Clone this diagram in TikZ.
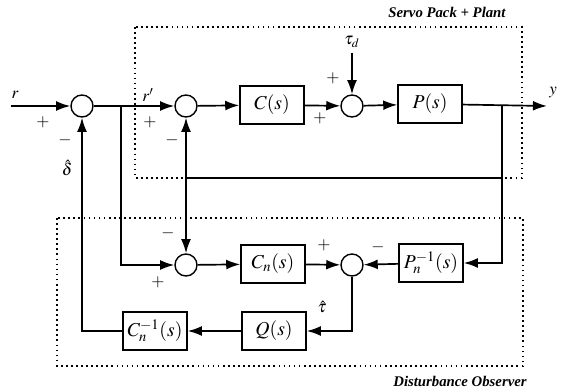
\documentclass[tikz,border=0pt]{standalone}
\usepackage{mathptmx}
\usepackage{fontspec}
\setmainfont{Liberation Serif}
\usetikzlibrary{arrows.meta,positioning}

\begin{document}
\begin{tikzpicture}[x=0.025cm,y=-0.025cm,line width=1.2pt,
  sumnode/.style={draw,circle,line width=1pt,minimum size=0.55cm,inner sep=0pt},
  blockbox/.style={draw,line width=1pt,minimum width=1.6cm,minimum height=0.95cm,inner sep=1pt,font=\fontsize{14}{16}\selectfont},
  sig/.style={-{Latex[length=10pt,width=7pt]}},
  lbl/.style={inner sep=0pt,font=\fontsize{12}{14}\selectfont},
  frame/.style={line width=1.3pt,dash pattern=on 1.2pt off 2.4pt},
  caption/.style={inner sep=0pt,font=\fontsize{10.5}{12}\selectfont\bfseries\itshape}]
\useasboundingbox (0,0) rectangle (562,390);

%Frames
\draw [frame] (135,27) rectangle (522,178);
\draw [frame] (57,218) rectangle (523,366);
\node [caption] (servo) at (447,12) {Servo Pack + Plant};
\node [caption] (dob) at (460,381) {Disturbance Observer};

%Top row
\coordinate (rin) at (11,106);
\node [sumnode] (s1) at (82,106) {};
\node [sumnode] (s2) at (186,106) {};
\node [blockbox] (cbox) at (272,105) {$C(s)$};
\node [sumnode] (s3) at (352,106) {};
\node [blockbox] (pbox) at (430,104) {$P(s)$};
\coordinate (yout) at (547,106);
\coordinate (b1) at (121,106);
\coordinate (b2) at (502,106);
\node [lbl] (taud) at (352,42) {$\tau_d$};

\draw [sig] (rin) -- (s1);
\draw [sig] (s1) -- (s2);
\draw [sig] (s2) -- (cbox);
\draw [sig] (cbox) -- (s3);
\draw [sig] (s3) -- (pbox);
\draw [sig] (pbox) -- (yout);
\draw [sig] ([yshift=-3pt]taud.south) -- (s3);

%Feedback
\coordinate (fbr) at (502,178);
\coordinate (fbj) at (186,178);
\draw (fbr) -- (fbj);

%Observer
\node [sumnode] (s4) at (186,265) {};
\node [blockbox] (cnbox) at (273,264) {$C_n(s)$};
\node [sumnode] (s5) at (352,265) {};
\node [blockbox] (pninv) at (431,263) {$P_n^{-1}(s)$};
\node [blockbox] (qbox) at (274,331) {$Q(s)$};
\node [blockbox] (cninv) at (155,331) {$C_n^{-1}(s)$};

\draw [sig] (fbj) -- (s2);
\draw [sig] (fbj) -- (s4);
\draw [sig] (b1) |- (s4);
\draw [sig] (s4) -- (cnbox);
\draw [sig] (cnbox) -- (s5);
\draw [sig] (b2) |- (pninv);
\draw [sig] (pninv) -- (s5);
\draw [sig] (s5) |- (qbox);
\draw [sig] (qbox) -- (cninv);
\draw [sig] (cninv) -| (s1);

%Signs and signals
\node [lbl] (rlbl) at (15,95) {$r$};
\node [lbl] (p1) at (43,122) {$+$};
\node [lbl] (m1) at (65,140) {$-$};
\node [lbl] (dhat) at (67,168) {$\hat{\delta}$};
\node [lbl] (rplbl) at (148,95) {$r'$};
\node [lbl] (p2) at (150,122) {$+$};
\node [lbl] (m2) at (172,140) {$-$};
\node [lbl] (p3) at (320,118) {$+$};
\node [lbl] (p4) at (333,78) {$+$};
\node [lbl] (ylbl) at (553,93) {$y$};
\node [lbl] (m4) at (168,233) {$-$};
\node [lbl] (p5) at (158,282) {$+$};
\node [lbl] (p6) at (324,245) {$+$};
\node [lbl] (m5) at (378,247) {$-$};
\node [lbl] (thatlbl) at (322,307) {$\hat{\tau}$};
\end{tikzpicture}
\end{document}
